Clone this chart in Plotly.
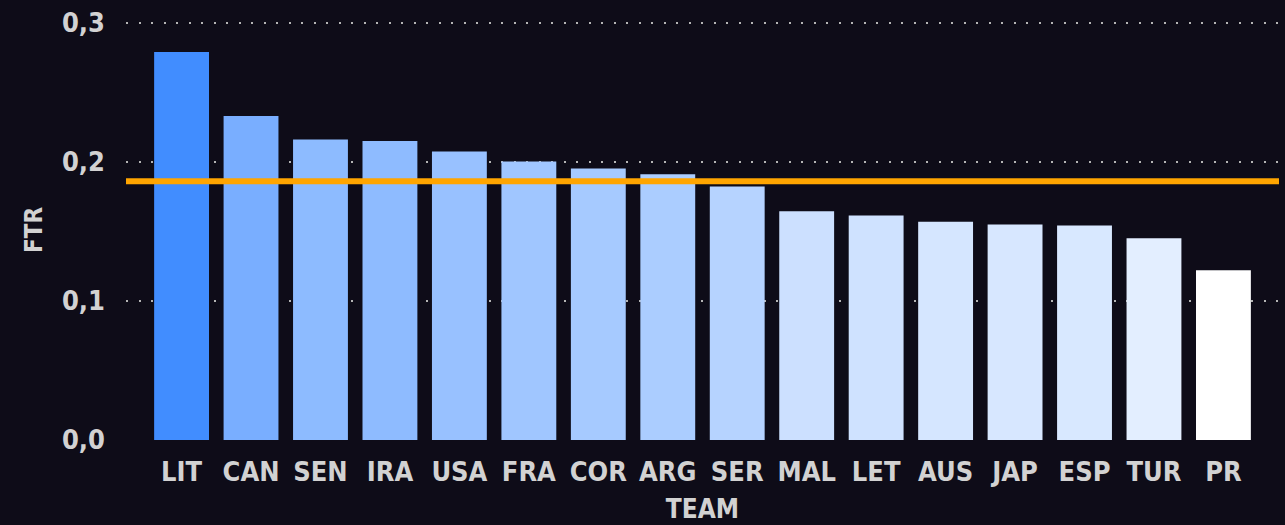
import plotly.graph_objects as go

# Data
teams = ["LIT", "CAN", "SEN", "IRA", "USA", "FRA", "COR", "ARG", "SER",
         "MAL", "LET", "AUS", "JAP", "ESP", "TUR", "PR"]
ftr = [0.279, 0.233, 0.216, 0.215, 0.2075, 0.2003, 0.1953, 0.191, 0.1823,
       0.1644, 0.1615, 0.157, 0.155, 0.1543, 0.145, 0.122]
ftr_mean = 0.186
y_ticks = [0.0, 0.1, 0.2, 0.3]
y_tick_text = ["0,0", "0,1", "0,2", "0,3"]

font_family = "DejaVu Sans Condensed, sans-serif"
text_color = "#d2d2d2"
bg = "#0e0c18"

fig = go.Figure()
fig.add_trace(go.Bar(
    x=teams, y=ftr,
    marker=dict(color=ftr, colorscale=[[0, "#ffffff"], [1, "#418dff"]], line=dict(width=0)),
    showlegend=False,
))

# linea media
fig.add_shape(type="line", xref="paper", yref="y", x0=0, x1=1, y0=ftr_mean, y1=ftr_mean,
              line=dict(color="#ffa500", width=6), layer="above")

fig.update_layout(
    width=1285, height=525,
    margin=dict(l=126, r=6, t=20, b=85),
    paper_bgcolor=bg, plot_bgcolor=bg,
    bargap=0.21,
    font=dict(family=font_family, color=text_color, size=26),
)
fig.update_xaxes(
    range=[-0.8, 15.8], showgrid=False, showline=False, ticks="",
    ticklabelstandoff=13,
    tickfont=dict(size=27, color=text_color, weight="bold"),
    title=dict(text="TEAM", font=dict(size=26, color=text_color, weight="bold"), standoff=13),
)
fig.update_yaxes(
    range=[0, 0.302], tickvals=y_ticks, ticktext=y_tick_text,
    showgrid=True, gridcolor="#b5b5b5", gridwidth=2, griddash="2px,10.5px",
    zeroline=False, showline=False, ticks="", ticklabelstandoff=20,
    tickfont=dict(size=27, color=text_color, weight="bold"),
    title=dict(text="FTR", font=dict(size=24, color=text_color, weight="bold"), standoff=12),
)

# sin margen del body
fig.write_html("out.html", config={"displayModeBar": False}, post_script=(
    "document.body.style.margin='0';"
    f"document.body.style.background='{bg}';"
))
